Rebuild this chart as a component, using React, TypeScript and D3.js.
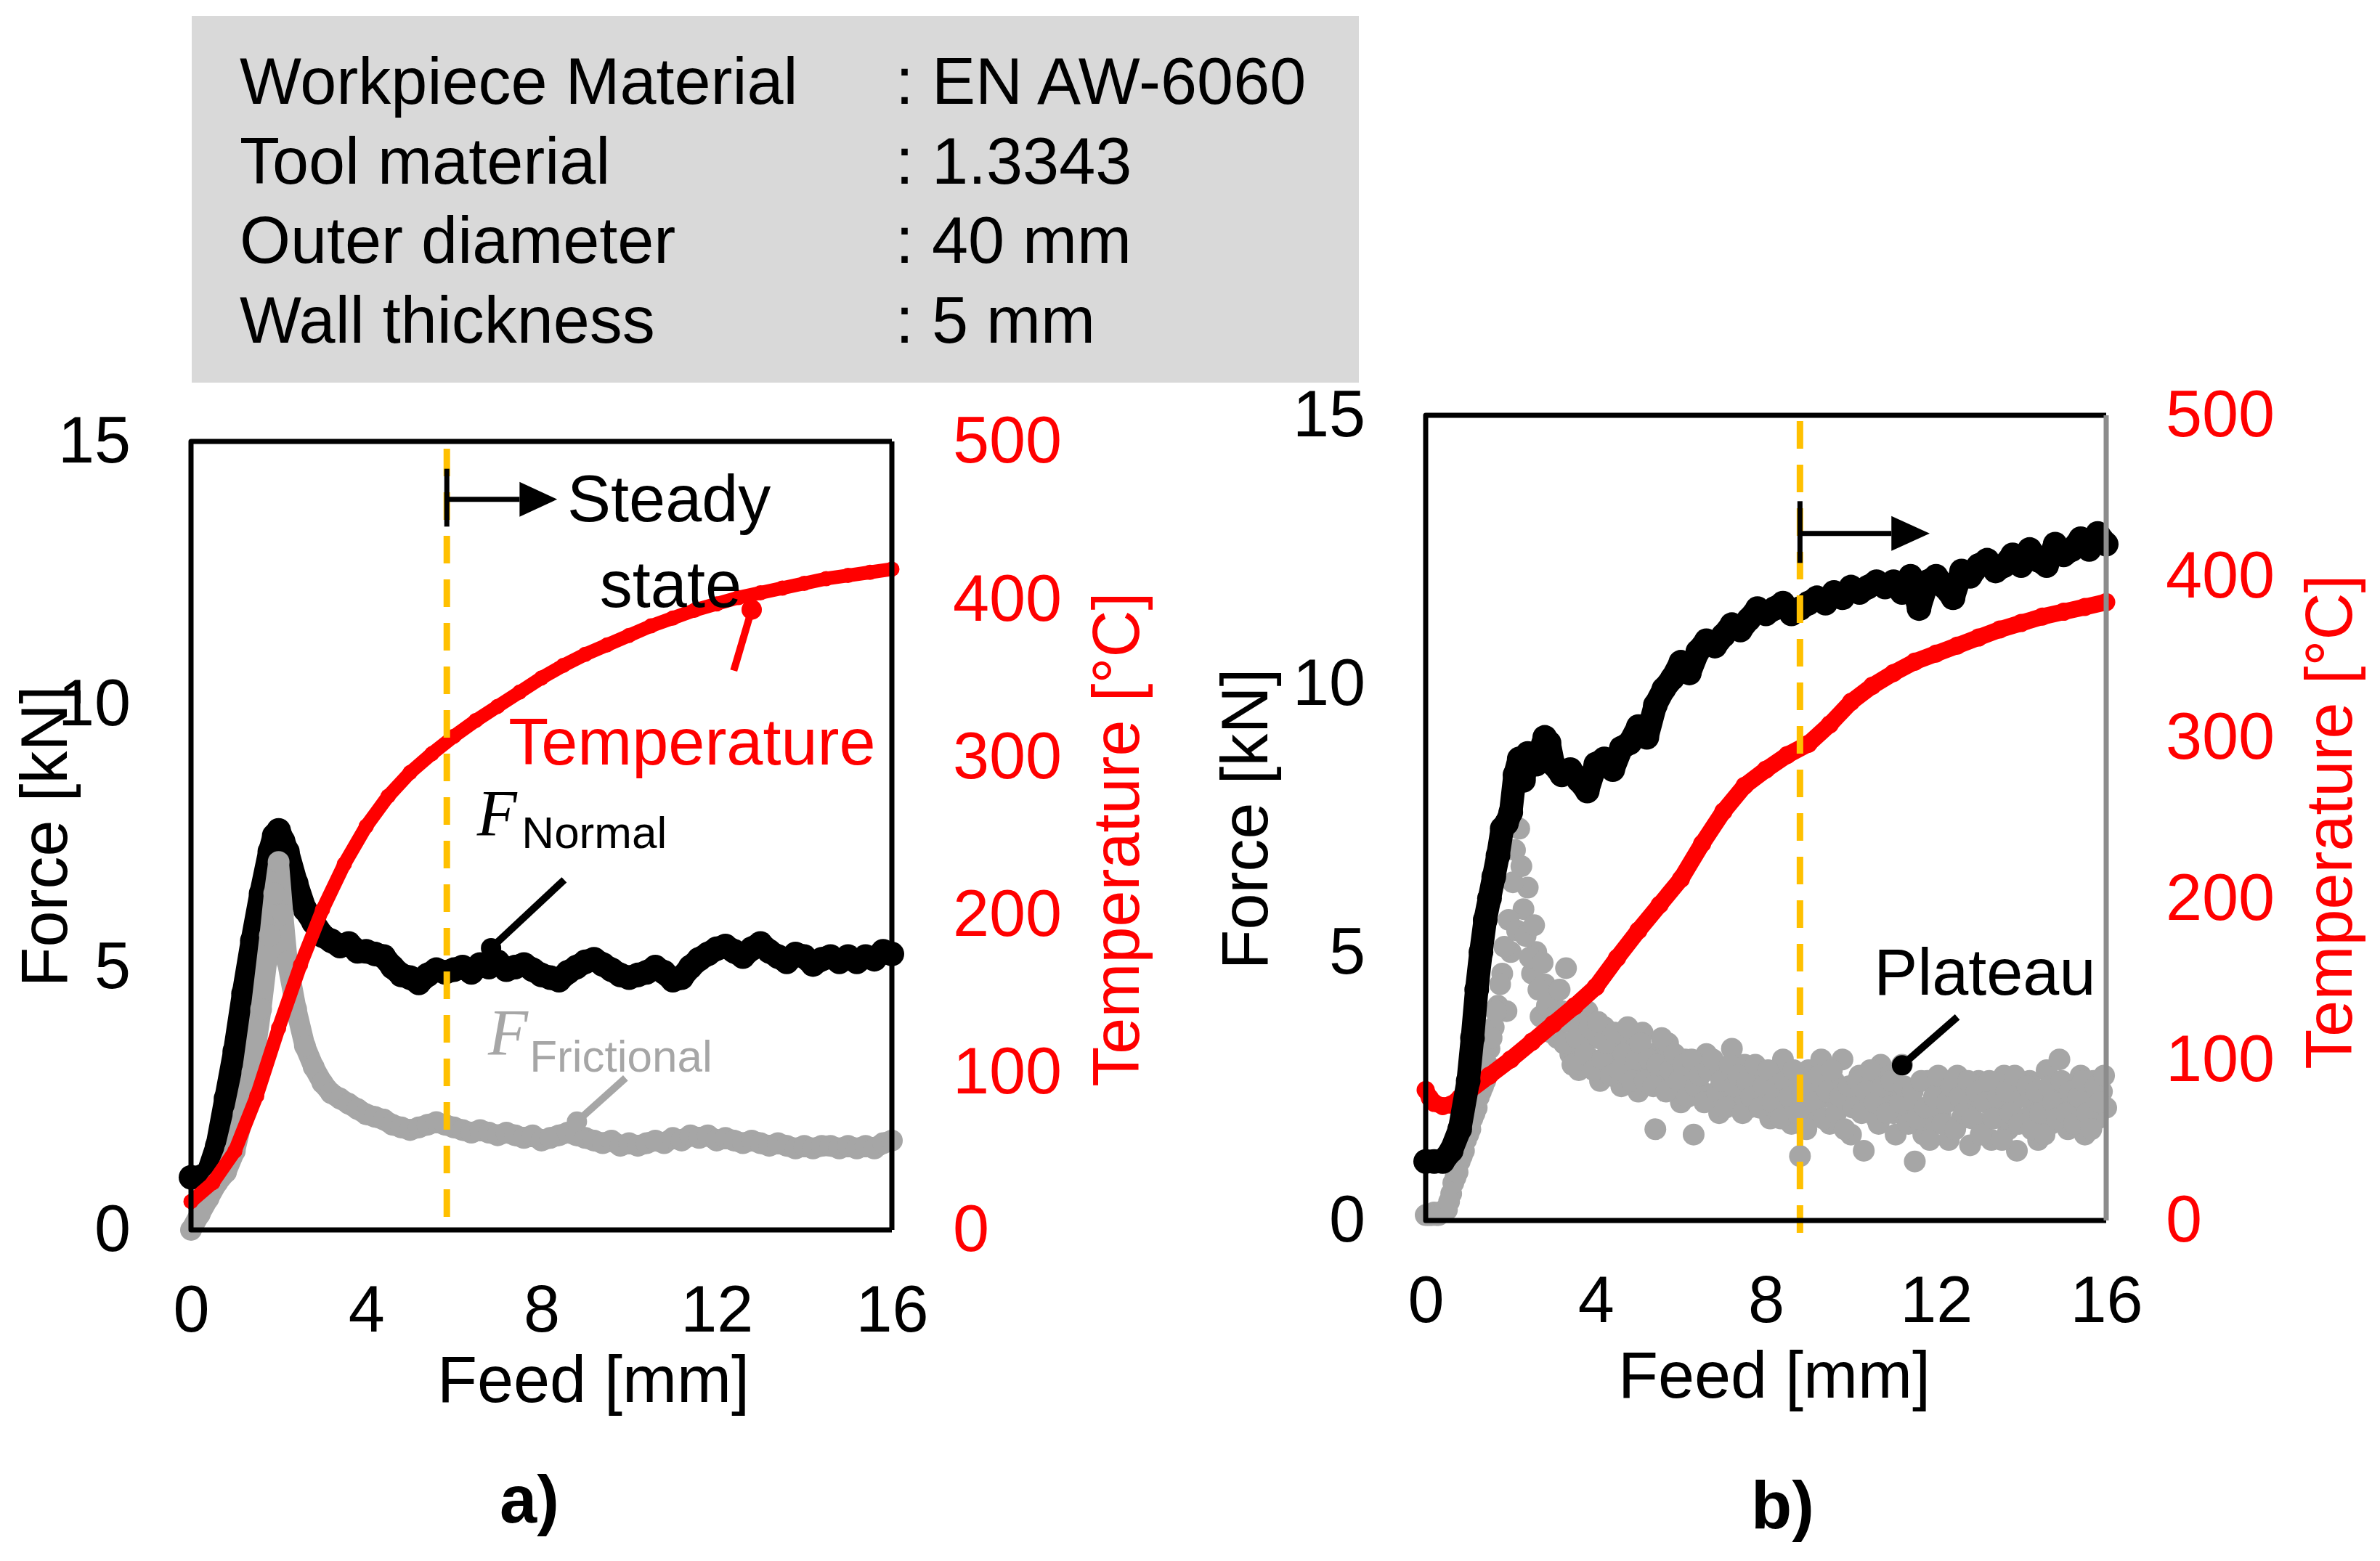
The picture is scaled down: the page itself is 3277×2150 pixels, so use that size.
import { useEffect, useRef } from "react";
import * as d3 from "d3";

type Pt = [number, number];

const feedTicks = [0, 4, 8, 12, 16];
const forceTicks = [0, 5, 10, 15];
const tempTicks = [0, 100, 200, 300, 400, 500];

const infoLabels = ["Workpiece Material", "Tool material", "Outer diameter", "Wall thickness"];
const infoValues = [": EN AW-6060", ": 1.3343", ": 40 mm", ": 5 mm"];

// ---- panel a : feed [mm], force [kN] / temperature [°C]
const normalA: Pt[] = [
  [0, 1.0], [0.2, 1.0], [0.4, 1.1], [0.6, 1.6], [0.8, 2.5], [1.0, 3.4], [1.2, 4.5], [1.4, 5.5],
  [1.6, 6.4], [1.8, 7.2], [1.9, 7.5], [2.0, 7.6], [2.1, 7.4], [2.2, 7.2], [2.4, 6.6], [2.6, 6.1],
  [2.8, 5.85], [3.0, 5.6], [3.2, 5.5], [3.4, 5.4], [3.6, 5.45], [3.8, 5.3], [4.0, 5.3], [4.2, 5.25],
  [4.4, 5.2], [4.6, 5.0], [4.8, 4.85], [5.0, 4.8], [5.2, 4.7], [5.4, 4.85], [5.6, 4.95], [5.8, 4.9],
  [6.0, 4.95], [6.2, 5.0], [6.4, 4.9], [6.6, 5.05], [6.8, 5.0], [7.0, 5.1], [7.2, 4.95], [7.4, 5.0],
  [7.6, 5.05], [7.8, 4.95], [8.0, 4.85], [8.2, 4.8], [8.4, 4.75], [8.6, 4.9], [8.8, 5.0], [9.0, 5.1],
  [9.2, 5.15], [9.4, 5.05], [9.6, 4.95], [9.8, 4.85], [10.0, 4.8], [10.2, 4.85], [10.4, 4.9], [10.6, 5.0],
  [10.8, 4.9], [11.0, 4.75], [11.2, 4.8], [11.4, 5.0], [11.6, 5.15], [11.8, 5.25], [12.0, 5.35], [12.2, 5.4],
  [12.4, 5.3], [12.6, 5.2], [12.8, 5.35], [13.0, 5.45], [13.2, 5.3], [13.4, 5.2], [13.6, 5.1], [13.8, 5.25],
  [14.0, 5.2], [14.2, 5.05], [14.4, 5.15], [14.6, 5.2], [14.8, 5.1], [15.0, 5.2], [15.2, 5.1], [15.4, 5.2],
  [15.6, 5.15], [15.8, 5.3], [16.0, 5.25],
];
const frictionalA: Pt[] = [
  [0, 0.0], [0.2, 0.3], [0.4, 0.6], [0.6, 0.9], [0.8, 1.1], [1.0, 1.5], [1.2, 2.2], [1.4, 3.0],
  [1.6, 4.2], [1.8, 5.6], [1.9, 6.4], [2.0, 7.0], [2.1, 6.0], [2.2, 5.1], [2.4, 4.2], [2.6, 3.5],
  [2.8, 3.1], [3.0, 2.8], [3.2, 2.6], [3.4, 2.5], [3.6, 2.4], [3.8, 2.3], [4.0, 2.2], [4.2, 2.15],
  [4.4, 2.1], [4.6, 2.0], [4.8, 1.95], [5.0, 1.9], [5.2, 1.95], [5.4, 2.0], [5.6, 2.05], [5.8, 2.0],
  [6.0, 1.95], [6.2, 1.9], [6.4, 1.85], [6.6, 1.9], [6.8, 1.85], [7.0, 1.8], [7.2, 1.85], [7.4, 1.8],
  [7.6, 1.75], [7.8, 1.8], [8.0, 1.7], [8.2, 1.75], [8.4, 1.8], [8.6, 1.85], [8.8, 1.8], [9.0, 1.75],
  [9.2, 1.7], [9.4, 1.65], [9.6, 1.7], [9.8, 1.6], [10.0, 1.65], [10.2, 1.6], [10.4, 1.65], [10.6, 1.7],
  [10.8, 1.65], [11.0, 1.75], [11.2, 1.7], [11.4, 1.8], [11.6, 1.75], [11.8, 1.8], [12.0, 1.7], [12.2, 1.75],
  [12.4, 1.7], [12.6, 1.65], [12.8, 1.7], [13.0, 1.65], [13.2, 1.6], [13.4, 1.65], [13.6, 1.6], [13.8, 1.55],
  [14.0, 1.6], [14.2, 1.55], [14.4, 1.6], [14.6, 1.6], [14.8, 1.55], [15.0, 1.6], [15.2, 1.55], [15.4, 1.6],
  [15.6, 1.55], [15.8, 1.65], [16.0, 1.7],
];
const temperatureA: Pt[] = [
  [0, 18], [0.5, 30], [1.0, 50], [1.5, 85], [2.0, 128], [2.5, 168], [3.0, 203], [3.5, 232],
  [4.0, 256], [4.5, 275], [5.0, 290], [5.5, 302], [6.0, 313], [6.5, 323], [7.0, 332], [7.5, 341],
  [8.0, 350], [8.5, 358], [9.0, 365], [9.5, 371], [10.0, 377], [10.5, 383], [11.0, 388], [11.5, 393],
  [12.0, 397], [12.5, 401], [13.0, 404], [13.5, 407], [14.0, 410], [14.5, 413], [15.0, 415], [15.5, 417],
  [16.0, 419],
];

// ---- panel b
const normalB: Pt[] = [
  [0, 1.1], [0.2, 1.1], [0.4, 1.1], [0.6, 1.3], [0.8, 1.7], [1.0, 2.6], [1.1, 3.4], [1.2, 4.3],
  [1.3, 5.0], [1.4, 5.6], [1.5, 6.0], [1.6, 6.4], [1.7, 6.8], [1.8, 7.3], [1.9, 7.4], [2.0, 7.6],
  [2.1, 8.3], [2.2, 8.6], [2.3, 8.2], [2.4, 8.7], [2.6, 8.5], [2.8, 9.0], [2.9, 8.9], [3.0, 8.5],
  [3.2, 8.3], [3.4, 8.4], [3.6, 8.2], [3.8, 8.0], [4.0, 8.5], [4.2, 8.6], [4.4, 8.4], [4.6, 8.8],
  [4.8, 8.9], [5.0, 9.2], [5.2, 9.0], [5.4, 9.6], [5.6, 9.9], [5.8, 10.1], [6.0, 10.4], [6.2, 10.2],
  [6.4, 10.6], [6.6, 10.8], [6.8, 10.7], [7.0, 10.9], [7.2, 11.1], [7.4, 11.0], [7.6, 11.2], [7.8, 11.4],
  [8.0, 11.3], [8.2, 11.4], [8.4, 11.5], [8.6, 11.3], [8.8, 11.4], [9.0, 11.5], [9.2, 11.6], [9.4, 11.5],
  [9.6, 11.7], [9.8, 11.6], [10.0, 11.8], [10.2, 11.7], [10.4, 11.8], [10.6, 11.9], [10.8, 11.8], [11.0, 11.9],
  [11.2, 11.7], [11.4, 12.0], [11.6, 11.4], [11.8, 11.9], [12.0, 12.0], [12.2, 11.8], [12.4, 11.6], [12.6, 12.1],
  [12.8, 12.0], [13.0, 12.2], [13.2, 12.3], [13.4, 12.1], [13.6, 12.2], [13.8, 12.4], [14.0, 12.2], [14.2, 12.5],
  [14.4, 12.3], [14.6, 12.2], [14.8, 12.6], [15.0, 12.4], [15.2, 12.5], [15.4, 12.7], [15.6, 12.5], [15.8, 12.8],
  [16.0, 12.6],
];
const frictionalB: Pt[] = [
  [0.0, 0.1], [0.1, 0.1], [0.2, 0.15], [0.3, 0.1], [0.4, 0.15], [0.5, 0.2], [0.6, 0.5], [0.7, 0.8],
  [0.8, 1.1], [0.9, 1.3], [1.0, 1.6], [1.1, 1.9], [1.2, 2.1], [1.3, 2.4], [1.4, 2.6], [1.5, 3.2],
  [1.6, 3.6], [1.7, 4.0], [1.8, 4.6], [1.9, 3.9], [2.0, 5.0], [2.1, 6.9], [2.2, 7.3], [2.3, 5.8],
  [2.4, 6.2], [2.5, 4.6], [2.6, 5.0], [2.7, 3.8], [2.8, 4.4], [2.9, 3.6], [3.0, 4.2], [3.1, 3.4],
  [3.2, 3.9], [3.3, 4.7], [3.4, 3.1], [3.5, 3.8], [3.6, 2.8], [3.7, 3.5], [3.8, 3.9], [3.9, 3.0],
  [4.0, 3.4], [4.1, 2.6], [4.2, 3.6], [4.3, 2.9], [4.4, 3.3], [4.5, 3.1], [4.6, 2.5], [4.7, 3.4],
  [4.8, 2.9], [4.9, 3.2], [5.0, 2.4], [5.1, 3.5], [5.2, 2.8], [5.3, 3.1], [5.4, 1.7], [5.5, 3.0],
  [5.6, 2.6], [5.7, 3.3], [5.8, 2.5], [5.9, 2.9], [6.0, 2.2], [6.1, 3.0], [6.2, 2.7], [6.3, 1.6],
  [6.4, 2.9], [6.5, 2.4], [6.6, 3.1], [6.7, 2.3], [6.8, 2.8], [6.9, 2.0], [7.0, 2.7], [7.1, 2.4],
  [7.2, 3.2], [7.3, 2.2], [7.4, 2.6], [7.5, 2.9], [7.6, 2.1], [7.7, 2.5], [7.8, 2.8], [7.9, 2.3],
  [8.0, 2.6], [8.1, 1.9], [8.2, 2.4], [8.3, 2.7], [8.4, 3.0], [8.5, 2.1], [8.6, 1.8], [8.7, 2.5],
  [8.8, 1.2], [8.9, 2.2], [9.0, 2.8], [9.1, 2.0], [9.2, 2.5], [9.3, 3.0], [9.4, 2.3], [9.5, 1.8],
  [9.6, 2.6], [9.7, 2.1], [9.8, 3.0], [9.9, 2.4], [10.0, 1.6], [10.1, 2.3], [10.2, 2.7], [10.3, 1.3],
  [10.4, 2.2], [10.5, 2.6], [10.6, 1.9], [10.7, 2.9], [10.8, 2.3], [10.9, 2.7], [11.0, 2.0], [11.1, 2.5],
  [11.2, 2.9], [11.3, 1.9], [11.4, 2.3], [11.5, 1.1], [11.6, 2.1], [11.7, 1.6], [11.8, 2.6], [11.9, 1.8],
  [12.0, 2.4], [12.1, 2.0], [12.2, 2.6], [12.3, 1.5], [12.4, 2.3], [12.5, 2.7], [12.6, 1.9], [12.7, 2.4],
  [12.8, 1.4], [12.9, 2.2], [13.0, 2.6], [13.1, 1.8], [13.2, 2.3], [13.3, 1.5], [13.4, 2.5], [13.5, 2.0],
  [13.6, 2.7], [13.7, 1.7], [13.8, 2.2], [13.9, 1.3], [14.0, 2.4], [14.1, 1.9], [14.2, 2.6], [14.3, 2.1],
  [14.4, 1.5], [14.5, 2.3], [14.6, 2.8], [14.7, 1.8], [14.8, 2.4], [14.9, 3.0], [15.0, 2.2], [15.1, 1.7],
  [15.2, 2.5], [15.3, 2.0], [15.4, 2.7], [15.5, 1.6], [15.6, 2.3], [15.7, 2.6], [15.8, 1.9], [15.9, 2.4],
  [16.0, 2.1],
];
// second pass of the same scattered channel, read between the first set
const frictionalB2: Pt[] = [
  [0.05, 0.1], [0.15, 0.1], [0.25, 0.1], [0.35, 0.15], [0.45, 0.2], [0.55, 0.35], [0.65, 0.7], [0.75, 0.9],
  [0.85, 1.2], [0.95, 1.5], [1.05, 1.7], [1.15, 2.0], [1.25, 2.3], [1.35, 2.5], [1.45, 2.9], [1.55, 3.4],
  [1.65, 3.9], [1.75, 4.4], [1.85, 5.1], [1.95, 5.6], [2.05, 6.3], [2.15, 5.4], [2.25, 6.6], [2.35, 5.3],
  [2.45, 4.9], [2.55, 5.5], [2.65, 4.3], [2.75, 4.8], [2.85, 4.0], [2.95, 3.5], [3.05, 3.8], [3.15, 4.3],
  [3.25, 3.3], [3.35, 3.7], [3.45, 2.9], [3.55, 3.4], [3.65, 4.0], [3.75, 3.1], [3.85, 3.6], [3.95, 2.8],
  [4.05, 3.7], [4.15, 3.0], [4.25, 3.3], [4.35, 2.7], [4.45, 3.5], [4.55, 2.8], [4.65, 3.1], [4.75, 3.6],
  [4.85, 2.6], [4.95, 3.0], [5.05, 3.3], [5.15, 2.6], [5.25, 3.0], [5.35, 2.5], [5.45, 2.9], [5.55, 3.4],
  [5.65, 2.4], [5.75, 2.8], [5.85, 3.1], [5.95, 2.6], [6.05, 2.9], [6.15, 2.3], [6.25, 3.0], [6.35, 2.5],
  [6.45, 2.7], [6.55, 2.2], [6.65, 2.8], [6.75, 3.0], [6.85, 2.4], [6.95, 2.6], [7.05, 2.1], [7.15, 2.9],
  [7.25, 2.5], [7.35, 2.7], [7.45, 2.0], [7.55, 2.6], [7.65, 2.3], [7.75, 2.9], [7.85, 2.1], [7.95, 2.5],
  [8.05, 2.8], [8.15, 2.2], [8.25, 2.5], [8.35, 1.9], [8.45, 2.6], [8.55, 2.3], [8.65, 2.8], [8.75, 2.0],
  [8.85, 2.4], [8.95, 1.7], [9.05, 2.5], [9.15, 2.2], [9.25, 2.7], [9.35, 1.9], [9.45, 2.4], [9.55, 2.8],
  [9.65, 2.0], [9.75, 2.3], [9.85, 1.7], [9.95, 2.5], [10.05, 2.1], [10.15, 2.6], [10.25, 2.0], [10.35, 2.4],
  [10.45, 2.8], [10.55, 2.2], [10.65, 1.8], [10.75, 2.5], [10.85, 2.0], [10.95, 2.6], [11.05, 1.6], [11.15, 2.2],
  [11.25, 2.5], [11.35, 1.8], [11.45, 2.4], [11.55, 1.9], [11.65, 2.6], [11.75, 2.1], [11.85, 1.5], [11.95, 2.3],
  [12.05, 2.7], [12.15, 1.8], [12.25, 2.2], [12.35, 2.5], [12.45, 1.7], [12.55, 2.3], [12.65, 2.0], [12.75, 2.6],
  [12.85, 1.9], [12.95, 2.4], [13.05, 1.6], [13.15, 2.2], [13.25, 2.6], [13.35, 1.9], [13.45, 2.3], [13.55, 1.5],
  [13.65, 2.4], [13.75, 2.0], [13.85, 2.7], [13.95, 1.8], [14.05, 2.3], [14.15, 2.5], [14.25, 1.7], [14.35, 2.4],
  [14.45, 2.0], [14.55, 1.6], [14.65, 2.5], [14.75, 2.2], [14.85, 1.9], [14.95, 2.6], [15.05, 2.0], [15.15, 2.4],
  [15.25, 1.8], [15.35, 2.3], [15.45, 2.6], [15.55, 2.0], [15.65, 1.7], [15.75, 2.5], [15.85, 2.2], [15.95, 2.7],
];
const temperatureB: Pt[] = [
  [0, 81], [0.1, 76], [0.2, 73], [0.4, 71], [0.6, 72], [0.8, 76], [1.0, 80], [1.5, 90],
  [2.0, 100], [2.5, 111], [3.0, 122], [3.5, 133], [4.0, 145], [4.5, 163], [5.0, 180], [5.5, 196],
  [6.0, 212], [6.5, 234], [7.0, 254], [7.5, 270], [8.0, 280], [8.5, 289], [9.0, 296], [9.5, 308],
  [10.0, 322], [10.5, 332], [11.0, 340], [11.5, 347], [12.0, 352], [12.5, 357], [13.0, 362], [13.5, 367],
  [14.0, 371], [14.5, 375], [15.0, 378], [15.5, 381], [16.0, 384],
];

const FONT = "'Liberation Sans', Arial, sans-serif";
const SERIF = "'Liberation Serif', 'Times New Roman', serif";
const RED = "#ff0000";
const GREY = "#a6a6a6";
const GOLD = "#ffc000";

type Note = { text: string; x: number; y: number; anchor?: string; color?: string; size?: number; italic?: boolean };
type Pointer = { from: Pt; to: Pt; color: string };

interface PanelCfg {
  left: number; right: number; top: number; bottom: number;
  rightSpine: string;
  normal: Pt[]; frictional: Pt[][]; temperature: Pt[];
  scatterFrictional: boolean;
  normalR: number; frictionR: number; redWidth: number;
  steady: number; dashTop: number; dashBottom: number;
  arrow: { y0: number; y1: number; y: number; head: number; tip: number };
  notes: Note[]; pointers: Pointer[];
  feedTitle: Pt; forceTitle: Pt; tempTitle: Pt;
  label: string; labelPos: Pt;
  rightPad: number;
}

const panels: PanelCfg[] = [
  {
    left: 263, right: 1228, top: 608, bottom: 1694, rightSpine: "#000",
    normal: normalA, frictional: [frictionalA], temperature: temperatureA,
    scatterFrictional: false, normalR: 17, frictionR: 15, redWidth: 19,
    steady: 5.84, dashTop: 618, dashBottom: 1690,
    arrow: { y0: 13.38, y1: 14.48, y: 13.9, head: 7.5, tip: 8.36 },
    notes: [
      { text: "Steady", x: 8.59, y: 13.48 },
      { text: "state", x: 10.95, y: 11.85, anchor: "middle" },
      { text: "Temperature", x: 7.25, y: 8.85, color: RED },
      { text: "F", x: 6.53, y: 7.5, italic: true, size: 90 },
      { text: "Normal", x: 7.55, y: 7.27, size: 62 },
      { text: "F", x: 6.78, y: 3.33, italic: true, size: 90, color: GREY },
      { text: "Frictional", x: 7.73, y: 3.01, size: 62, color: GREY },
    ],
    pointers: [
      { from: [12.39, 10.64], to: [12.8, 11.8], color: RED },
      { from: [8.52, 6.66], to: [6.85, 5.36], color: "#000" },
      { from: [9.92, 2.89], to: [8.81, 2.06], color: GREY },
    ],
    feedTitle: [817, 1931], forceTitle: [92, 1152], tempTitle: [1568, 1156],
    label: "a)", labelPos: [688, 2097], rightPad: 84,
  },
  {
    left: 1963, right: 2900, top: 572, bottom: 1681, rightSpine: "#8c8c8c",
    normal: normalB, frictional: [frictionalB, frictionalB2], temperature: temperatureB,
    scatterFrictional: true, normalR: 17, frictionR: 15, redWidth: 23,
    steady: 8.8, dashTop: 580, dashBottom: 1704,
    arrow: { y0: 12.25, y1: 13.4, y: 12.8, head: 10.95, tip: 11.85 },
    notes: [{ text: "Plateau", x: 10.54, y: 4.2 }],
    pointers: [{ from: [12.5, 3.79], to: [11.2, 2.89], color: "#000" }],
    feedTitle: [2443, 1925], forceTitle: [1745, 1128], tempTitle: [3238, 1132],
    label: "b)", labelPos: [2411, 2105], rightPad: 82,
  },
];

function drawPanel(svg: d3.Selection<SVGSVGElement, unknown, null, undefined>, p: PanelCfg) {
  const x = d3.scaleLinear().domain([0, 16]).range([p.left, p.right]);
  const yF = d3.scaleLinear().domain([0, 15]).range([p.bottom, p.top]);
  const yT = d3.scaleLinear().domain([0, 500]).range([p.bottom, p.top]);
  const g = svg.append("g");

  // tick labels through d3 axes (no tick marks, no domain line)
  const styleAxis = (a: d3.Selection<SVGGElement, unknown, null, undefined>, color: string) => {
    a.select(".domain").remove();
    a.selectAll("text").attr("fill", color).style("font-size", "90px").style("font-family", FONT);
  };
  g.append("g").attr("transform", `translate(${p.left},0)`)
    .call(d3.axisLeft(yF).tickValues(forceTicks).tickSize(0).tickPadding(83))
    .call((a) => styleAxis(a, "#000"));
  g.append("g").attr("transform", `translate(${p.right},0)`)
    .call(d3.axisRight(yT).tickValues(tempTicks).tickSize(0).tickPadding(p.rightPad))
    .call((a) => styleAxis(a, RED));
  g.append("g").attr("transform", `translate(0,${p.bottom})`)
    .call(d3.axisBottom(x).tickValues(feedTicks).tickSize(0).tickPadding(76))
    .call((a) => styleAxis(a, "#000"));

  const line = (ys: d3.ScaleLinear<number, number>) =>
    d3.line<Pt>().x((d) => x(d[0])).y((d) => ys(d[1]));

  const drawBand = (data: Pt[], color: string, width: number, r: number, ys = yF) => {
    g.append("path").datum(data).attr("d", line(ys)).attr("fill", "none")
      .attr("stroke", color).attr("stroke-width", width)
      .attr("stroke-linejoin", "round").attr("stroke-linecap", "round");
    g.append("g").selectAll("circle").data(data).join("circle")
      .attr("cx", (d) => x(d[0])).attr("cy", (d) => ys(d[1])).attr("r", r).attr("fill", color);
  };

  const drawFrictional = () => {
    if (p.scatterFrictional) {
      p.frictional.forEach((set) => {
        g.append("g").selectAll("circle").data(set).join("circle")
          .attr("cx", (d) => x(d[0])).attr("cy", (d) => yF(d[1])).attr("r", p.frictionR).attr("fill", GREY);
      });
    } else {
      p.frictional.forEach((set) => drawBand(set, GREY, p.frictionR * 1.9, p.frictionR));
    }
  };

  if (p.scatterFrictional) {
    drawFrictional();
    drawBand(p.temperature, RED, p.redWidth, p.redWidth / 2 + 1, yT);
    drawBand(p.normal, "#000", p.normalR * 1.9, p.normalR);
  } else {
    drawBand(p.normal, "#000", p.normalR * 1.9, p.normalR);
    drawFrictional();
    drawBand(p.temperature, RED, p.redWidth, p.redWidth / 2 + 1, yT);
  }

  // steady-state marker line
  g.append("line")
    .attr("x1", x(p.steady)).attr("x2", x(p.steady))
    .attr("y1", p.dashTop).attr("y2", p.dashBottom)
    .attr("stroke", GOLD).attr("stroke-width", 9).attr("stroke-dasharray", "38 22");

  // spines
  g.append("path")
    .attr("d", `M${p.right},${p.top}H${p.left}V${p.bottom}H${p.right}`)
    .attr("fill", "none").attr("stroke", "#000").attr("stroke-width", 7).attr("stroke-linejoin", "round");
  g.append("line").attr("x1", p.right).attr("x2", p.right).attr("y1", p.top).attr("y2", p.bottom)
    .attr("stroke", p.rightSpine).attr("stroke-width", 7);

  // arrow
  const ax = x(p.steady);
  g.append("line").attr("x1", ax).attr("x2", ax).attr("y1", yF(p.arrow.y0)).attr("y2", yF(p.arrow.y1))
    .attr("stroke", "#000").attr("stroke-width", 7);
  g.append("line").attr("x1", ax).attr("x2", x(p.arrow.head)).attr("y1", yF(p.arrow.y)).attr("y2", yF(p.arrow.y))
    .attr("stroke", "#000").attr("stroke-width", 7);
  const ay = yF(p.arrow.y);
  g.append("path")
    .attr("d", `M${x(p.arrow.head)},${ay - 24}L${x(p.arrow.tip)},${ay}L${x(p.arrow.head)},${ay + 24}Z`)
    .attr("fill", "#000");

  // pointers
  p.pointers.forEach((pt) => {
    g.append("line")
      .attr("x1", x(pt.from[0])).attr("y1", yF(pt.from[1]))
      .attr("x2", x(pt.to[0])).attr("y2", yF(pt.to[1]))
      .attr("stroke", pt.color).attr("stroke-width", 10);
    g.append("circle").attr("cx", x(pt.to[0])).attr("cy", yF(pt.to[1])).attr("r", 14).attr("fill", pt.color);
  });

  // annotation texts
  p.notes.forEach((n) => {
    g.append("text")
      .attr("x", x(n.x)).attr("y", yF(n.y))
      .attr("text-anchor", n.anchor ?? "start")
      .attr("fill", n.color ?? "#000")
      .style("font-family", n.italic ? SERIF : FONT)
      .style("font-style", n.italic ? "italic" : "normal")
      .style("font-size", `${n.size ?? 90}px`)
      .text(n.text);
  });

  // axis titles
  g.append("text").attr("x", p.feedTitle[0]).attr("y", p.feedTitle[1]).attr("text-anchor", "middle")
    .style("font-family", FONT).style("font-size", "90px").text("Feed [mm]");
  g.append("text").attr("transform", `translate(${p.forceTitle[0]},${p.forceTitle[1]}) rotate(-90)`)
    .attr("text-anchor", "middle").style("font-family", FONT).style("font-size", "90px").text("Force [kN]");
  g.append("text").attr("transform", `translate(${p.tempTitle[0]},${p.tempTitle[1]}) rotate(-90)`)
    .attr("text-anchor", "middle").attr("fill", RED)
    .style("font-family", FONT).style("font-size", "90px").text("Temperature [°C]");

  g.append("text").attr("x", p.labelPos[0]).attr("y", p.labelPos[1])
    .style("font-family", FONT).style("font-size", "92px").style("font-weight", "bold").text(p.label);
}

export default function App() {
  const svgRef = useRef<SVGSVGElement | null>(null);

  useEffect(() => {
    if (!svgRef.current) return;
    const svg = d3.select(svgRef.current);
    svg.selectAll("*").remove();

    svg.append("rect").attr("width", 3277).attr("height", 2150).attr("fill", "#fff");

    // info box
    svg.append("rect").attr("x", 264).attr("y", 22).attr("width", 1607).attr("height", 505).attr("fill", "#d9d9d9");
    const rowY = d3.scalePoint<number>().domain(d3.range(infoLabels.length)).range([143, 472]);
    infoLabels.forEach((lab, i) => {
      svg.append("text").attr("x", 330).attr("y", rowY(i)!)
        .style("font-family", FONT).style("font-size", "90px").text(lab);
      svg.append("text").attr("x", 1233).attr("y", rowY(i)!)
        .style("font-family", FONT).style("font-size", "90px").text(infoValues[i]);
    });

    panels.forEach((p) => drawPanel(svg, p));
  }, []);

  return (
    <svg
      ref={svgRef}
      width={3277}
      height={2150}
      style={{ position: "absolute", left: 0, top: 0, display: "block" }}
    />
  );
}
